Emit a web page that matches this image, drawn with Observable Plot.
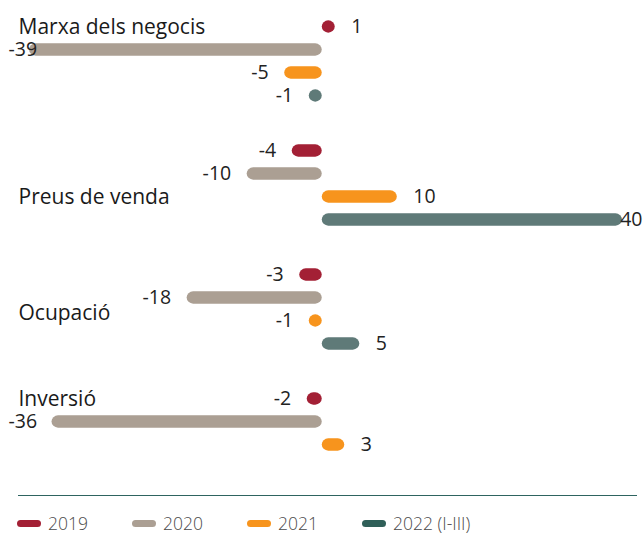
<!DOCTYPE html>
<html>
<head>
<meta charset="utf-8">
<script src="https://cdn.jsdelivr.net/npm/d3@7"></script>
<script src="https://cdn.jsdelivr.net/npm/@observablehq/plot@0.6"></script>
<style>
  body { margin: 0; background: #fff; font-family: "Open Sans", sans-serif; }
  #chart { position: relative; width: 643px; height: 534px; overflow: hidden; }
  #chart svg { position: absolute; left: 0; top: 0; }
  .rule { position: absolute; left: 18px; width: 619px; top: 495px; border-top: 1px solid #2e6460; }
  .legend { position: absolute; left: 17px; top: 513px; display: flex; }
  .legend .item { width: 115px; display: flex; align-items: center; }
  .legend .sw { width: 24px; height: 7px; border-radius: 4px; margin-right: 7px; }
  .legend .lab { font-size: 17.5px; font-weight: 300; color: #4a4a4a; line-height: 20px; white-space: nowrap; }
</style>
</head>
<body>
<div id="chart"></div>
<script>
// Survey balances by indicator and year
const categories = ["Marxa dels negocis", "Preus de venda", "Ocupació", "Inversió"];
const series = ["2019", "2020", "2021", "2022 (I-III)"];
const v2019 = [1, -4, -3, -2];
const v2020 = [-39, -10, -18, -36];
const v2021 = [-5, 10, -1, 3];
const v2022 = [-1, 40, 5, null];
const colors = ["#a32035", "#ab9f93", "#f7941d", "#5f7a78"];
const legendColors = ["#a32035", "#ab9f93", "#f7941d", "#2f5f58"];
// row beside which each indicator name is written
const nameRow = ["2019", "2021", "2021", "2019"];

const seriesValues = [v2019, v2020, v2021, v2022];
const rows = [];
categories.forEach((c, ci) => {
  series.forEach((s, si) => {
    const v = seriesValues[si][ci];
    if (v != null) rows.push({category: c, series: s, value: v});
  });
});
const names = categories.map((c, i) => ({category: c, row: nameRow[i]}));

const BAR = 13;
const plot = Plot.plot({
  width: 643,
  height: 485,
  marginTop: 13,
  marginBottom: 3,
  marginLeft: 29,
  marginRight: 21,
  style: {fontFamily: "'Open Sans', sans-serif", background: "transparent"},
  x: {domain: [-39, 40], axis: null},
  y: {domain: series, axis: null, padding: 0},
  fy: {domain: categories, axis: null, paddingInner: 0.24, paddingOuter: 0},
  color: {domain: series, range: colors},
  marks: [
    Plot.barX(rows, {
      x1: 0, x2: "value", y: "series", fy: "category", fill: "series",
      insetTop: 5.35, insetBottom: 5.35, rx: BAR / 2
    }),
    Plot.text(rows, {
      x: "value", y: "series", fy: "category", text: d => String(d.value),
      fontSize: 19.5, fill: "#222", ariaDescription: "values"
    }),
    Plot.text(names.filter(d => d.category !== "Ocupació"), {
      y: "row", fy: "category", text: "category", frameAnchor: "left",
      textAnchor: "start", dx: -11, fontSize: 21, fill: "#1a1a1a"
    }),
    Plot.text(names.filter(d => d.category === "Ocupació"), {
      y: "row", fy: "category", text: "category", frameAnchor: "left",
      textAnchor: "start", dx: -11, dy: -8, fontSize: 21, fill: "#1a1a1a"
    })
  ]
});

const chart = document.getElementById("chart");
chart.appendChild(plot);

// pill bars never shrink below a full circle
const xs = plot.scale("x");
const zero = xs.apply(0);
d3.select(plot).selectAll('g[aria-label="bar"] rect').each(function (i) {
  const r = d3.select(this);
  const w = +r.attr("width");
  if (w < BAR) {
    const v = rows[i].value;
    r.attr("width", BAR).attr("x", v < 0 ? zero - BAR : zero);
  }
});

// value labels sit just past the visible end of each bar, kept inside the frame
const GAP = 16;
d3.select(plot).selectAll('g[aria-description="values"] text').each(function (i) {
  const t = d3.select(this);
  const v = rows[i].value;
  const m = /translate\(([-\d.e]+),\s*([-\d.e]+)\)/.exec(t.attr("transform") || "");
  const ty = m ? +m[2] : 0;
  const end = v < 0 ? Math.min(xs.apply(v), zero - BAR) : Math.max(xs.apply(v), zero + BAR);
  const w = this.getComputedTextLength();
  let left = v < 0 ? end - GAP - w : end + GAP;
  left = Math.max(8, Math.min(left, 642 - w));
  t.attr("text-anchor", "start").attr("transform", `translate(${left},${ty})`);
});

// divider and legend
const rule = document.createElement("div");
rule.className = "rule";
chart.appendChild(rule);
const legend = document.createElement("div");
legend.className = "legend";
series.forEach((s, i) => {
  const item = document.createElement("div");
  item.className = "item";
  const sw = document.createElement("span");
  sw.className = "sw";
  sw.style.background = legendColors[i];
  const lab = document.createElement("span");
  lab.className = "lab";
  lab.textContent = s;
  item.appendChild(sw);
  item.appendChild(lab);
  legend.appendChild(item);
});
chart.appendChild(legend);
</script>
</body>
</html>
